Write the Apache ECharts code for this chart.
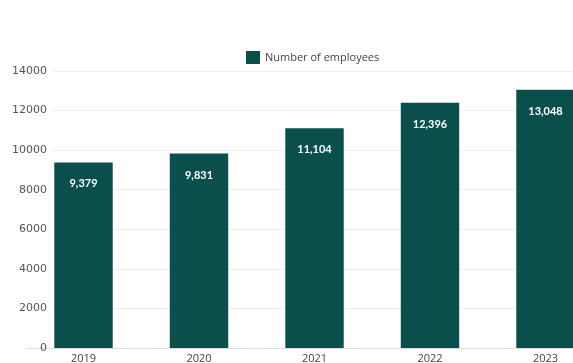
<!DOCTYPE html>
<html>
<head>
<meta charset="utf-8">
<script src="https://cdn.jsdelivr.net/npm/echarts@6/dist/echarts.min.js"></script>
<style>
  html, body { margin: 0; padding: 0; background: #fff; }
  #chart { width: 573px; height: 363px; }
</style>
</head>
<body>
<div id="chart"></div>
<script>
// Headcount by year
const years = ['2019', '2020', '2021', '2022', '2023'];
const employees = [9379, 9831, 11104, 12396, 13048];
const seriesName = 'Number of employees';
const yTicks = { min: 0, max: 14000, interval: 2000 };

const barColor = '#0b4f4d';
const chart = echarts.init(document.getElementById('chart'), null, { renderer: 'canvas' });

chart.setOption({
  animation: false,
  backgroundColor: '#ffffff',
  legend: {
    data: [{ name: seriesName, icon: 'rect' }],
    left: 241,
    top: 46,
    itemWidth: 14,
    itemHeight: 13,
    itemGap: 4,
    textStyle: { fontFamily: 'Open Sans', fontSize: 11, color: '#444' }
  },
  grid: [
    // plot area for the bars (runs past the right edge of the canvas)
    { left: 25.75, width: 577.5, top: 71, bottom: 15, containLabel: false, outerBoundsMode: 'none' },
    // value scale with its gridlines
    { left: 53, width: 560, top: 71, bottom: 15, containLabel: false, outerBoundsMode: 'none' }
  ],
  xAxis: [
    {
      type: 'category',
      gridIndex: 0,
      data: years,
      boundaryGap: true,
      axisTick: { show: false },
      axisLine: { show: true, lineStyle: { color: '#dddddd', width: 1 } },
      axisLabel: { margin: 5, fontFamily: 'Open Sans', fontSize: 11, color: '#444' }
    },
    {
      type: 'category',
      gridIndex: 1,
      data: years,
      show: false
    }
  ],
  yAxis: [
    {
      type: 'value',
      gridIndex: 0,
      min: yTicks.min, max: yTicks.max, interval: yTicks.interval,
      show: false,
      splitLine: { show: false }
    },
    {
      type: 'value',
      gridIndex: 1,
      min: yTicks.min, max: yTicks.max, interval: yTicks.interval,
      axisLine: { show: false },
      axisTick: { show: false },
      axisLabel: {
        margin: 6, fontFamily: 'DejaVu Sans', fontSize: 11, color: '#555',
        formatter: v => String(v)
      },
      splitLine: { show: true, lineStyle: { color: '#efefef', width: 1 } }
    }
  ],
  series: [
    {
      name: seriesName,
      type: 'bar',
      xAxisIndex: 0,
      yAxisIndex: 0,
      data: employees,
      barWidth: '50.6%',
      itemStyle: { color: barColor },
      label: {
        show: true,
        position: 'insideTop',
        distance: 16,
        fontFamily: 'Lato',
        fontWeight: 'bold',
        fontSize: 11,
        color: '#ffffff',
        formatter: p => p.value.toLocaleString('en-US')
      }
    }
  ]
});
</script>
</body>
</html>
